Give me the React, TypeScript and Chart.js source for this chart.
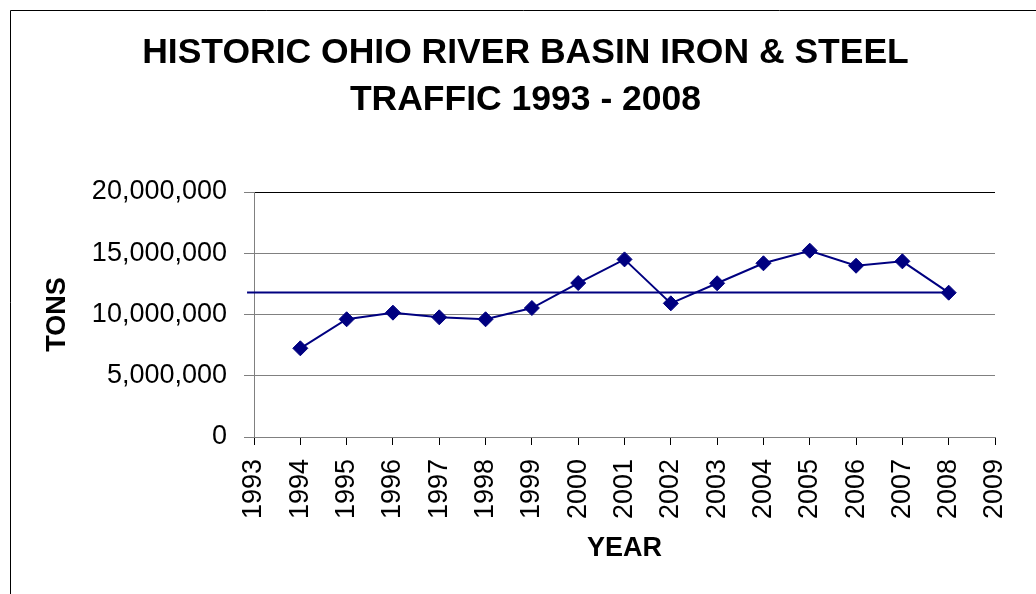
import React, { useEffect, useRef } from 'react';
import { Chart, registerables } from 'chart.js';

Chart.register(...registerables);

const titleLines = ['HISTORIC OHIO RIVER BASIN IRON & STEEL', 'TRAFFIC 1993 - 2008'];
const xAxisTitle = 'YEAR';
const yAxisTitle = 'TONS';

const years = [1994, 1995, 1996, 1997, 1998, 1999, 2000, 2001, 2002, 2003, 2004, 2005, 2006, 2007, 2008];
const tons = [7240000, 9610000, 10150000, 9770000, 9610000, 10530000, 12570000, 14500000, 10910000, 12550000, 14180000, 15210000, 13980000, 14340000, 11780000];

const levelLineX = [1992.85, 2008];
const levelLineY = [11800000, 11800000];

const xMin = 1993;
const xMax = 2009;
const yTicks = [0, 5000000, 10000000, 15000000, 20000000];

const FONT = '"Liberation Sans", Arial, sans-serif';
const NAVY = '#000080';

const framePlugin = {
  id: 'frame',
  beforeDraw(chart: any) {
    const ctx = chart.ctx;
    ctx.save();
    ctx.fillStyle = '#fff';
    ctx.fillRect(0, 0, chart.width, chart.height);
    ctx.strokeStyle = '#000';
    ctx.lineWidth = 1;
    ctx.beginPath();
    ctx.moveTo(10.5, chart.height);
    ctx.lineTo(10.5, 10.5);
    ctx.lineTo(chart.width, 10.5);
    ctx.stroke();
    ctx.restore();
  },
};

export default function App() {
  const ref = useRef<HTMLCanvasElement | null>(null);

  useEffect(() => {
    if (!ref.current) return;
    const chart = new Chart(ref.current, {
      type: 'line',
      data: {
        datasets: [
          {
            label: 'Tons',
            data: years.map((y, i) => ({ x: y, y: tons[i] })),
            borderColor: NAVY,
            backgroundColor: NAVY,
            borderWidth: 2,
            pointStyle: 'rectRot',
            pointRadius: 7.5,
            pointBorderWidth: 1,
            pointBorderColor: NAVY,
            pointBackgroundColor: NAVY,
            tension: 0,
          },
          {
            label: 'Level',
            data: levelLineX.map((x, i) => ({ x, y: levelLineY[i] })),
            borderColor: NAVY,
            borderWidth: 2,
            pointRadius: 0,
            clip: false as any,
          },
        ],
      },
      options: {
        animation: false,
        responsive: false,
        layout: { padding: { left: 56, right: 41, top: 0, bottom: 0 } },
        plugins: {
          legend: { display: false },
          tooltip: { enabled: false },
          title: {
            display: true,
            text: titleLines,
            color: '#000',
            font: { family: FONT, size: 35.5, weight: 'bold', lineHeight: 47 / 35.5 },
            padding: { top: 30, bottom: 68 },
          },
        },
        scales: {
          x: {
            type: 'linear',
            min: xMin,
            max: xMax,
            afterFit: (s: any) => {
              s.height = 157;
              s.paddingLeft = 0;
              s.paddingRight = 0;
            },
            ticks: {
              stepSize: 1,
              autoSkip: false,
              minRotation: 90,
              maxRotation: 90,
              padding: 14,
              color: '#000',
              font: { family: FONT, size: 27 },
              callback: (v: any) => String(v),
            },
            grid: {
              drawOnChartArea: false,
              drawTicks: true,
              tickLength: 8,
              tickColor: '#000',
            },
            border: { display: true, color: '#808080', width: 1 },
            title: {
              display: true,
              text: xAxisTitle,
              color: '#000',
              font: { family: FONT, size: 27, weight: 'bold', lineHeight: 1.2 },
              padding: { top: 0, bottom: 29 },
            },
          },
          y: {
            type: 'linear',
            min: 0,
            max: 20000000,
            afterFit: (s: any) => {
              s.width = 198;
            },
            afterBuildTicks: (s: any) => {
              s.ticks = yTicks.map((v) => ({ value: v }));
            },
            ticks: {
              padding: 17,
              color: '#000',
              font: { family: FONT, size: 27 },
              callback: (v: any) => Number(v).toLocaleString('en-US'),
            },
            grid: {
              drawTicks: true,
              tickLength: 10,
              color: (c: any) => (c.tick && c.tick.value === 20000000 ? '#000' : '#808080'),
              tickColor: '#808080',
            },
            border: { display: true, color: '#808080', width: 1 },
            title: {
              display: true,
              text: yAxisTitle,
              color: '#000',
              font: { family: FONT, size: 27, weight: 'bold', lineHeight: 1.2 },
              padding: { top: -14.7, bottom: 0 },
            },
          },
        },
      },
      plugins: [framePlugin],
    });
    return () => chart.destroy();
  }, []);

  return (
    <div style={{ position: 'absolute', left: 0, top: 0, width: 1036, height: 594 }}>
      <canvas ref={ref} width={1036} height={594} style={{ display: 'block' }} />
    </div>
  );
}
